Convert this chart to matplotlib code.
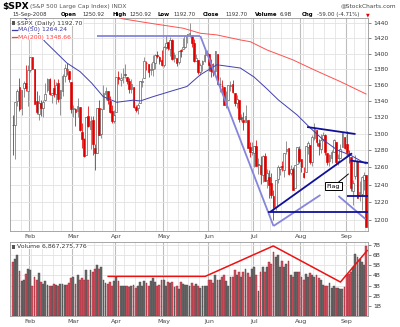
import matplotlib
matplotlib.use("Agg")
import matplotlib.pyplot as plt
from matplotlib.ticker import FixedLocator, FixedFormatter, NullLocator
from matplotlib.patches import Rectangle
import numpy as np

# ---------------- data ----------------
months = ["Jan", "Feb", "Mar", "Apr", "May", "Jun", "Jul", "Aug", "Sep"]
month_days = [
    [22, 23, 24, 25, 28, 29, 30, 31],
    [1, 4, 5, 6, 7, 8, 11, 12, 13, 14, 15, 19, 20, 21, 22, 25, 26, 27, 28, 29],
    [3, 4, 5, 6, 7, 10, 11, 12, 13, 14, 17, 18, 19, 20, 24, 25, 26, 27, 28, 31],
    [1, 2, 3, 4, 7, 8, 9, 10, 11, 14, 15, 16, 17, 18, 21, 22, 23, 24, 25, 28, 29, 30],
    [1, 2, 5, 6, 7, 8, 9, 12, 13, 14, 15, 16, 19, 20, 21, 22, 23, 27, 28, 29, 30],
    [2, 3, 4, 5, 6, 9, 10, 11, 12, 13, 16, 17, 18, 19, 20, 23, 24, 25, 26, 27, 30],
    [1, 2, 3, 7, 8, 9, 10, 11, 14, 15, 16, 17, 18, 21, 22, 23, 24, 25, 28, 29, 30, 31],
    [1, 4, 5, 6, 7, 8, 11, 12, 13, 14, 15, 18, 19, 20, 21, 22, 25, 26, 27, 28, 29],
    [2, 3, 4, 5, 8, 9, 10, 11, 12, 15],
]

prev_close = 1325.2

opens = [
    1310.4, 1310.4, 1340.1, 1357.3, 1330.7, 1355.9, 1362.2, 1352.0,
    1378.6, 1395.4, 1380.3, 1339.5, 1324.0, 1336.9, 1331.9, 1340.6, 1353.1, 1367.3, 1347.5, 1355.9, 1348.4, 1362.2, 1344.2, 1352.8, 1371.8, 1378.9, 1378.2, 1364.1,
    1330.5, 1329.6, 1327.7, 1332.2, 1301.5, 1293.2, 1274.4, 1321.1, 1305.3, 1316.1, 1283.2, 1277.2, 1331.0, 1299.7, 1330.3, 1349.1, 1352.5, 1340.3, 1327.0, 1315.9,
    1326.4, 1370.0, 1365.7, 1369.9, 1373.7, 1370.2, 1365.5, 1355.4, 1358.0, 1332.2, 1331.7, 1337.0, 1363.4, 1369.0, 1387.7, 1386.4, 1378.4, 1380.5, 1387.8, 1398.0, 1395.6, 1391.2,
    1386.0, 1409.2, 1415.3, 1405.6, 1417.5, 1394.3, 1394.9, 1389.4, 1404.4, 1405.7, 1408.4, 1423.9, 1425.3, 1424.5, 1414.1, 1390.8, 1392.2, 1376.0, 1386.5, 1390.5, 1398.4,
    1399.6, 1386.4, 1376.3, 1377.5, 1400.1, 1360.8, 1359.0, 1357.1, 1335.8, 1341.8, 1358.9, 1360.7, 1349.6, 1336.9, 1341.0, 1319.8, 1317.2, 1314.5, 1316.3, 1283.6, 1278.1,
    1276.7, 1285.8, 1263.0, 1262.9, 1251.8, 1273.4, 1245.3, 1248.7, 1241.6, 1226.8, 1214.7, 1246.3, 1258.2, 1261.8, 1257.1, 1278.9, 1283.2, 1253.5, 1257.8, 1236.4, 1264.5, 1281.4,
    1269.4, 1253.3, 1254.9, 1284.0, 1286.5, 1266.3, 1294.4, 1304.8, 1288.6, 1282.1, 1293.9, 1298.1, 1276.7, 1267.3, 1271.1, 1277.6, 1290.5, 1267.0, 1271.3, 1283.8, 1296.5,
    1287.8, 1276.6, 1271.8, 1233.2, 1249.5, 1268.0, 1227.5, 1229.0, 1245.9, 1250.9,
]
highs = [
    1322.3, 1339.1, 1355.2, 1368.6, 1354.0, 1364.9, 1385.9, 1385.6,
    1396.0, 1395.4, 1380.3, 1352.0, 1347.2, 1341.2, 1341.4, 1362.1, 1369.2, 1368.2, 1350.0, 1367.3, 1363.7, 1367.9, 1354.3, 1374.4, 1387.3, 1388.3, 1378.2, 1364.1,
    1335.1, 1331.0, 1344.2, 1332.2, 1313.2, 1295.0, 1320.7, 1333.3, 1321.7, 1321.5, 1287.5, 1330.7, 1341.5, 1330.7, 1359.7, 1357.1, 1352.5, 1345.6, 1334.9, 1328.5,
    1370.2, 1377.9, 1375.7, 1380.9, 1386.7, 1370.2, 1368.4, 1367.2, 1358.0, 1335.6, 1337.7, 1365.5, 1368.6, 1395.9, 1390.2, 1386.4, 1387.9, 1397.7, 1399.1, 1402.9, 1397.0, 1404.6,
    1410.1, 1422.7, 1415.3, 1421.6, 1419.5, 1402.4, 1394.9, 1404.1, 1406.3, 1420.2, 1424.4, 1425.8, 1440.2, 1424.5, 1419.1, 1399.1, 1392.2, 1387.4, 1391.2, 1406.3, 1404.5,
    1399.6, 1393.1, 1388.2, 1404.1, 1400.1, 1370.6, 1366.8, 1357.1, 1353.0, 1360.0, 1364.7, 1366.6, 1349.6, 1347.7, 1341.0, 1323.8, 1326.0, 1335.6, 1316.3, 1289.5, 1290.3,
    1285.3, 1292.2, 1271.5, 1274.0, 1274.2, 1277.4, 1257.7, 1257.3, 1253.5, 1234.4, 1245.5, 1262.3, 1262.2, 1267.7, 1277.4, 1291.2, 1283.2, 1263.2, 1260.1, 1263.2, 1284.3, 1284.9,
    1270.0, 1260.5, 1284.9, 1291.7, 1286.5, 1297.9, 1313.2, 1304.8, 1294.0, 1300.1, 1302.1, 1300.2, 1276.7, 1276.0, 1281.0, 1293.1, 1290.5, 1275.7, 1288.0, 1300.7, 1296.5,
    1303.0, 1280.6, 1271.8, 1244.9, 1274.4, 1268.7, 1243.9, 1250.0, 1255.1, 1250.9,
]
lows = [
    1274.3, 1270.1, 1334.3, 1327.5, 1322.3, 1345.0, 1352.9, 1334.1,
    1375.9, 1379.7, 1336.6, 1324.3, 1316.8, 1321.1, 1320.3, 1339.4, 1350.8, 1347.3, 1338.1, 1345.1, 1336.6, 1339.2, 1322.4, 1346.0, 1363.3, 1372.0, 1363.2, 1325.4,
    1320.0, 1309.7, 1320.2, 1303.4, 1282.4, 1272.7, 1274.4, 1307.9, 1282.1, 1274.9, 1257.0, 1277.2, 1298.4, 1295.2, 1330.3, 1341.2, 1336.4, 1325.7, 1312.9, 1312.8,
    1326.4, 1361.6, 1358.7, 1362.8, 1369.0, 1360.6, 1350.0, 1350.1, 1331.2, 1326.2, 1324.4, 1337.0, 1357.3, 1369.0, 1379.3, 1369.8, 1372.2, 1371.1, 1380.0, 1394.4, 1386.7, 1384.3,
    1383.1, 1406.3, 1404.4, 1397.1, 1391.2, 1389.4, 1384.1, 1386.2, 1396.3, 1405.7, 1406.9, 1414.4, 1421.6, 1409.1, 1388.8, 1390.2, 1373.7, 1373.1, 1378.2, 1388.6, 1398.1,
    1377.8, 1370.1, 1371.7, 1373.1, 1359.9, 1350.7, 1351.5, 1335.5, 1331.3, 1341.7, 1352.1, 1350.5, 1333.4, 1330.9, 1314.5, 1315.3, 1304.4, 1314.5, 1283.2, 1272.0, 1274.9,
    1260.7, 1261.5, 1252.0, 1240.7, 1242.8, 1244.6, 1236.8, 1225.4, 1225.0, 1200.4, 1211.4, 1241.5, 1251.8, 1255.9, 1248.8, 1276.1, 1251.5, 1251.8, 1234.4, 1236.4, 1264.5, 1265.1,
    1254.5, 1247.5, 1254.7, 1276.0, 1264.3, 1262.1, 1292.8, 1285.6, 1274.9, 1276.8, 1290.7, 1274.5, 1263.1, 1261.2, 1265.0, 1277.6, 1263.2, 1263.2, 1271.3, 1283.8, 1281.9,
    1272.2, 1265.6, 1232.8, 1217.2, 1247.1, 1224.5, 1221.6, 1211.5, 1233.8, 1192.7,
]
closes = [
    1310.5, 1338.6, 1352.1, 1330.6, 1354.0, 1362.3, 1355.8, 1378.6,
    1395.4, 1380.8, 1336.6, 1326.5, 1336.9, 1331.3, 1339.1, 1348.9, 1367.2, 1348.9, 1350.0, 1348.8, 1360.0, 1342.5, 1353.1, 1371.8, 1381.3, 1380.0, 1367.7, 1330.6,
    1331.3, 1326.8, 1333.7, 1304.3, 1293.4, 1273.4, 1320.7, 1308.8, 1315.5, 1288.1, 1276.6, 1330.7, 1298.4, 1329.5, 1349.9, 1353.0, 1341.1, 1325.8, 1315.2, 1322.7,
    1370.2, 1367.5, 1369.3, 1370.4, 1372.5, 1365.5, 1354.5, 1360.6, 1332.8, 1328.3, 1334.4, 1364.7, 1365.6, 1390.3, 1388.2, 1375.9, 1379.9, 1388.8, 1397.8, 1396.4, 1390.9, 1385.6,
    1409.3, 1413.9, 1407.5, 1418.3, 1392.6, 1397.7, 1388.3, 1403.6, 1403.0, 1408.7, 1423.6, 1425.4, 1426.6, 1413.4, 1390.7, 1394.4, 1375.9, 1385.4, 1390.8, 1398.3, 1400.4,
    1385.7, 1377.7, 1377.2, 1404.1, 1360.7, 1361.8, 1358.4, 1335.5, 1339.9, 1360.0, 1360.1, 1350.9, 1337.8, 1342.8, 1317.9, 1318.0, 1314.3, 1322.0, 1283.2, 1278.4, 1280.0,
    1284.9, 1261.5, 1262.9, 1252.3, 1273.7, 1244.7, 1253.4, 1239.5, 1228.3, 1214.9, 1245.4, 1260.3, 1260.7, 1260.0, 1277.0, 1282.2, 1252.5, 1257.8, 1234.4, 1263.2, 1284.3, 1267.4,
    1260.3, 1249.0, 1284.9, 1289.2, 1266.1, 1296.3, 1305.3, 1289.6, 1285.8, 1292.9, 1298.2, 1278.6, 1266.7, 1274.5, 1277.7, 1292.2, 1266.8, 1271.5, 1281.7, 1300.7, 1282.8,
    1277.6, 1275.0, 1236.8, 1242.3, 1267.8, 1224.5, 1232.0, 1249.1, 1251.7, 1192.7,
]
# daily volume, billions of shares
volumes = [
    5.3, 5.6, 6.0, 4.4, 3.5, 3.6, 4.1, 4.6,
    4.5, 3.0, 3.8, 3.6, 4.2, 3.4, 3.2, 3.5, 3.1, 3.0, 3.0, 3.2, 3.1, 3.0, 3.2, 3.2, 3.1, 3.1, 3.3, 3.7,
    3.8, 3.2, 4.0, 3.6, 3.7, 3.6, 4.5, 3.6, 4.5, 4.3, 4.6, 5.0, 4.6, 4.8, 3.6, 3.3, 3.2, 3.4, 3.0, 3.5,
    3.8, 3.5, 3.0, 3.0, 3.0, 3.0, 2.9, 3.0, 3.1, 2.8, 3.0, 3.4, 3.0, 3.5, 3.3, 3.0, 3.5, 3.7, 3.4, 3.0, 3.1, 3.6,
    3.6, 3.0, 3.4, 3.3, 3.4, 2.9, 3.0, 2.7, 3.4, 3.2, 3.1, 3.1, 3.0, 3.3, 3.0, 3.2, 3.0, 2.8, 3.0, 3.0, 3.0,
    3.6, 3.6, 3.3, 4.0, 3.6, 3.6, 3.8, 4.0, 3.5, 3.0, 3.8, 3.8, 4.5, 4.0, 4.3, 3.8, 4.3, 4.6, 4.2, 3.8, 4.6,
    4.8, 4.0, 2.5, 4.3, 4.8, 4.3, 4.8, 5.3, 5.1, 6.3, 5.8, 6.0, 4.8, 5.4, 4.8, 5.1, 5.4, 4.0, 3.8, 4.3, 4.3, 4.3,
    3.8, 3.6, 4.1, 3.8, 4.2, 4.0, 3.8, 4.0, 3.7, 3.6, 3.1, 3.0, 3.0, 3.3, 2.8, 3.0, 2.8, 2.8, 2.7, 2.7, 2.9,
    4.0, 4.1, 4.3, 4.8, 6.1, 5.8, 5.6, 5.3, 5.0, 6.87,
]

# moving averages (trading-day index, value)
ma50_idx = [0, 8, 14.9, 25, 31.2, 36.6, 41.9, 48.2, 55.8, 59.1, 65.1, 74.4, 80.8, 87, 94.7, 105.6, 112, 118, 123.3, 132, 138.1, 144.2, 150.6, 156.7, 164]
ma50_val = [1462, 1440, 1415.6, 1388.0, 1376.8, 1362.2, 1345.4, 1338.4, 1341.0, 1340.0, 1345.4, 1353.0, 1358.1, 1372.9, 1385.7, 1381.5, 1370, 1355, 1341.2, 1322.7, 1306.9, 1292.4, 1280.5, 1274.5, 1264.24]
ma200_idx = [30, 45, 51.2, 63.7, 79, 87, 94.7, 105.6, 110.2, 118, 130, 140, 152, 164]
ma200_val = [1462, 1452, 1445.8, 1440, 1433.4, 1426.7, 1424.5, 1417.9, 1415.6, 1404.8, 1392, 1379, 1364.3, 1348.66]

# hand-drawn trend lines: (start idx, start price, end idx, end price)
light_lines = [
    (39.1, 1423.2, 87.0, 1423.2),
    (87.0, 1423.2, 121.0, 1193.5),
    (121.0, 1193.5, 142.8, 1228.3),
    (151.2, 1227.1, 163.7, 1201.3),
]
dark_lines = [
    (136.6, 1308.1, 159.1, 1299.6),
    (119.5, 1209.2, 157.5, 1276.6),
    (118.6, 1209.2, 164.7, 1209.2),
    (156.7, 1268.1, 165.1, 1265.2),
    (155.3, 1227.1, 164.7, 1227.1),
]
vol_line_idx = [44.2, 89.3, 120.9, 152.1, 164.5]
vol_line_val = [3.91, 3.91, 6.91, 3.35, 6.45]

price_ticks = [1200, 1220, 1240, 1260, 1280, 1300, 1320, 1340, 1360, 1380, 1400, 1420, 1440]
vol_ticks = [1, 2, 3, 4, 5, 6, 7]
vol_labels = ["1B", "2B", "3B", "4B", "5B", "6B", "7B"]

# ---------------- derived ----------------
n = len(closes)
idx = np.arange(n)
o = np.array(opens); h = np.array(highs); l = np.array(lows); c = np.array(closes)
prev = np.concatenate([[prev_close], c[:-1]])
down = c < prev

month_idx, month_lab = [], []
k = 0
for m, days in zip(months, month_days):
    if m != "Jan":
        month_idx.append(k)
        month_lab.append(m)
    k += len(days)
week_idx = []
k = 0
for days in month_days:
    for j, d in enumerate(days):
        if j > 0 and d - days[j - 1] > 1:
            week_idx.append(k + j)
    k += len(days)

RED = "#e00000"
DARK = "#555555"

W, H = 400, 327
def fx(x):
    return x / W
def fy(y):
    return 1 - y / H

fig = plt.figure(figsize=(4.0, 3.27), dpi=100)
fig.patch.set_facecolor("white")
plt.rcParams["font.family"] = ["DejaVu Sans"]

axp = fig.add_axes([fx(10), fy(231), fx(368) - fx(10), fy(18) - fy(231)])
axv = fig.add_axes([fx(10), fy(316), fx(368) - fx(10), fy(242) - fy(316)])

for ax in (axp, axv):
    ax.set_xlim(-1.4, 164.9)
    for wi in week_idx:
        ax.axvline(wi - 0.5, color="#e4e4e4", lw=0.6, zorder=0)
    for mi in month_idx:
        ax.axvline(mi - 0.5, color="#bdbdbd", lw=0.8, zorder=0)
    for s in ax.spines.values():
        s.set_color("#999999")
        s.set_linewidth(0.6)
    ax.yaxis.tick_right()
    ax.tick_params(axis="y", labelsize=4.3, length=2, width=0.5, pad=1.5,
                   colors="#555555", labelcolor="#333333")
    ax.set_xticks(month_idx)
    ax.set_xticklabels(month_lab)
    ax.tick_params(axis="x", labelsize=4.5, length=0, pad=2, labelcolor="#444444")

# ---- price panel ----
axp.set_yscale("log")
axp.set_ylim(1188, 1447)
axp.yaxis.set_major_locator(FixedLocator(price_ticks))
axp.yaxis.set_major_formatter(FixedFormatter([str(t) for t in price_ticks]))
axp.yaxis.set_minor_locator(NullLocator())
for t in price_ticks:
    axp.axhline(t, color="#e2e2e2", lw=0.6, zorder=0)

col = np.where(down, RED, DARK)
axp.vlines(idx, l, h, colors=np.where(down, RED, "#777777"), lw=0.55, zorder=2)
body_lo = np.minimum(o, c)
body_hi = np.maximum(o, c)
body_h = np.maximum(body_hi - body_lo, 0.6)
face = [("white" if cc > oo else cl) for cc, oo, cl in zip(c, o, col)]
axp.bar(idx, body_h, bottom=body_lo, width=0.8, color=face, edgecolor=col,
        linewidth=0.45, zorder=3)

axp.plot(ma200_idx, ma200_val, color="#ff5050", lw=0.7, zorder=4)
axp.plot(ma50_idx, ma50_val, color="#4040b0", lw=0.7, zorder=4)

for x0, y0, x1, y1 in light_lines:
    axp.plot([x0, x1], [y0, y1], color="#8585dd", lw=1.3, zorder=5,
             solid_capstyle="butt")
for x0, y0, x1, y1 in dark_lines:
    axp.plot([x0, x1], [y0, y1], color="#10109a", lw=1.3, zorder=6,
             solid_capstyle="butt")

# flag annotation
axp.annotate("Flag", xy=(155.8, 1252.4), xytext=(148.8, 1238.1),
             fontsize=4.6, ha="center", va="center", zorder=7,
             bbox=dict(boxstyle="square,pad=0.25", fc="white", ec="black", lw=0.7),
             arrowprops=dict(arrowstyle="-", color="black", lw=0.7,
                             shrinkA=0, shrinkB=0))

# ---- volume panel ----
axv.set_ylim(0, 7.3)
axv.yaxis.set_major_locator(FixedLocator(vol_ticks))
axv.yaxis.set_major_formatter(FixedFormatter(vol_labels))
for t in vol_ticks:
    axv.axhline(t, color="#e2e2e2", lw=0.6, zorder=0)
vface = np.where(down, "#cf5562", "#6b6b6b")
vedge = np.where(down, "#a02030", "#444444")
axv.bar(idx, volumes, width=0.85, color=vface, edgecolor=vedge, linewidth=0.3, zorder=2)
axv.plot(vol_line_idx, vol_line_val, color="#ee1111", lw=1.1, zorder=4)

# ---- header and legends ----
fig.text(fx(2), fy(6), "$SPX", fontsize=6.6, fontweight="bold", va="center", ha="left")
fig.text(fx(29.5), fy(6.5), "(S&P 500 Large Cap Index) INDX", fontsize=4.2,
         color="#555555", va="center", ha="left")
fig.text(fx(396), fy(5.5), "@StockCharts.com", fontsize=4.2, color="#444444",
         va="center", ha="right")

hdr = [
    (12, "15-Sep-2008", "normal", "#333333"),
    (61, "Open", "bold", "black"), (82, "1250.92", "normal", "#333333"),
    (112, "High", "bold", "black"), (129, "1250.92", "normal", "#333333"),
    (157, "Low", "bold", "black"), (173, "1192.70", "normal", "#333333"),
    (203, "Close", "bold", "black"), (225, "1192.70", "normal", "#333333"),
    (255, "Volume", "bold", "black"), (280, "6.9B", "normal", "#333333"),
    (302, "Chg", "bold", "black"), (317, "-59.00 (-4.71%)", "normal", "#333333"),
]
for x, s, wgt, clr in hdr:
    fig.text(fx(x), fy(14.5), s, fontsize=3.9, fontweight=wgt, color=clr,
             va="center", ha="left")
fig.text(fx(366), fy(14.5), "\u25bc", fontsize=3.5, color=RED, va="center", ha="left")

# in-panel legend
fig.patches.append(Rectangle((fx(12), fy(25)), 3 / W, 4 / H, transform=fig.transFigure,
                             fc="#555555", ec="none", zorder=10))
fig.text(fx(17), fy(23.3), "$SPX (Daily) 1192.70", fontsize=4.4, color="#333333",
         va="center", ha="left", zorder=10,
         bbox=dict(fc="white", ec="none", pad=0.3))
fig.text(fx(17.5), fy(30), "MA(50) 1264.24", fontsize=4.4, color="#3a3aa8",
         va="center", ha="left", zorder=10,
         bbox=dict(fc="white", ec="none", pad=0.3))
fig.text(fx(17.5), fy(37), "MA(200) 1348.66", fontsize=4.4, color="#ff4040",
         va="center", ha="left", zorder=10,
         bbox=dict(fc="white", ec="none", pad=0.3))
fig.lines.append(plt.Line2D([fx(12), fx(17)], [fy(30), fy(30)], transform=fig.transFigure,
                            color="#3a3aa8", lw=0.9, zorder=11))
fig.lines.append(plt.Line2D([fx(12), fx(17)], [fy(37), fy(37)], transform=fig.transFigure,
                            color="#ff4040", lw=0.9, zorder=11))

fig.patches.append(Rectangle((fx(12), fy(248.5)), 3 / W, 4 / H, transform=fig.transFigure,
                             fc="#555555", ec="none", zorder=10))
fig.text(fx(17), fy(246.5), "Volume 6,867,275,776", fontsize=4.4, color="#333333",
         va="center", ha="left", zorder=10,
         bbox=dict(fc="white", ec="none", pad=0.3))

fig.savefig("out.png", dpi=100)
